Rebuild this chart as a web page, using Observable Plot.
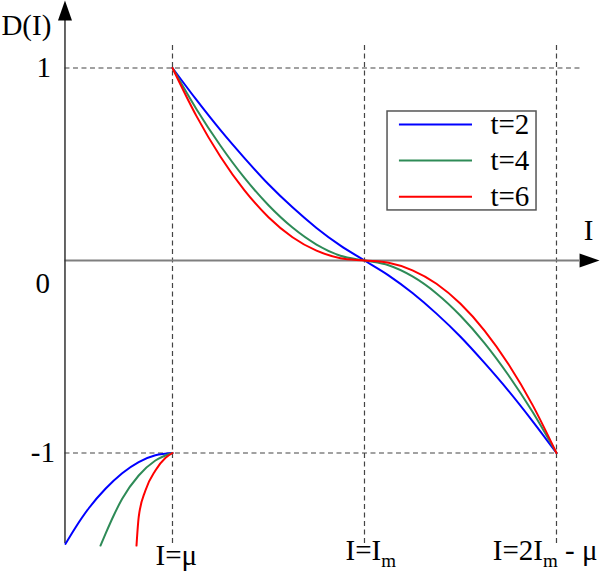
<!DOCTYPE html>
<html><head><meta charset="utf-8">
<script src="https://cdn.jsdelivr.net/npm/d3@7"></script>
<script src="https://cdn.jsdelivr.net/npm/@observablehq/plot@0.6"></script>
<style>body{margin:0;background:#fff} svg{display:block}</style>
</head><body><div id="chart"></div>
<script>
// ---- data ----
const seriesNames = ["t=2", "t=4", "t=6"];
const seriesColors = ["#0000ff", "#2e8b57", "#ff0000"];

// main branch: I from μ (=1) through I_m (=2) to 2I_m-μ (=3)
const mainI = [1, 1.125, 1.25, 1.375, 1.5, 1.625, 1.75, 1.875, 2, 2.125, 2.25, 2.375, 2.5, 2.625, 2.75, 2.875, 3];
const mainD_t2 = [1, 0.834, 0.677, 0.532, 0.396, 0.276, 0.169, 0.077, 0, -0.077, -0.169, -0.276, -0.396, -0.532, -0.677, -0.834, -1];
const mainD_t4 = [1, 0.786, 0.596, 0.429, 0.287, 0.171, 0.083, 0.025, 0, -0.025, -0.083, -0.171, -0.287, -0.429, -0.596, -0.786, -1];
const mainD_t6 = [1, 0.750, 0.539, 0.364, 0.225, 0.121, 0.051, 0.012, 0, -0.012, -0.051, -0.121, -0.225, -0.364, -0.539, -0.750, -1];

// lower-left branch (I < μ)
const lowI_t2 = [0.443, 0.495, 0.564, 0.651, 0.738, 0.824, 0.911, 1];
const lowD_t2 = [-1.472, -1.387, -1.287, -1.186, -1.105, -1.047, -1.012, -1];
const lowI_t4 = [0.625, 0.651, 0.695, 0.738, 0.824, 0.911, 1];
const lowD_t4 = [-1.481, -1.420, -1.322, -1.238, -1.117, -1.039, -1];
const lowI_t6 = [0.8125, 0.824, 0.859, 0.911, 0.964, 1];
const lowD_t6 = [-1.481, -1.333, -1.195, -1.091, -1.025, -1];

const yTicks = [1, 0, -1];
const yTickLabels = ["1", "0", "-1"];
const xTicks = [1, 2, 3];
const xTickLabels = ["I=μ", "I=I_m", "I=2I_m - μ"];
const xAxisLabel = "I";
const yAxisLabel = "D(I)";

// ---- build table ----
const mainD = [mainD_t2, mainD_t4, mainD_t6];
const lowI = [lowI_t2, lowI_t4, lowI_t6];
const lowD = [lowD_t2, lowD_t4, lowD_t6];
const mainRows = [], lowRows = [];
seriesNames.forEach((s, k) => {
  mainI.forEach((v, i) => mainRows.push({series: s, I: v, D: mainD[k][i]}));
  lowI[k].forEach((v, i) => lowRows.push({series: s, I: v, D: lowD[k][i]}));
});

// ---- layout ----
const yAxisX = 0.44;
const axisBottom = -1.47;
const yArrowBase = 1.247;
const xArrowBase = 3.12;
const dashTop = 1.117;
const font = "'Liberation Serif', 'Times New Roman', serif";
const fs = 29;
const T = {fontSize: fs, fontFamily: font, fill: "black"};

const arrowHead = {
  draw(context, l, r) {
    context.moveTo(-r, 0);
    context.lineTo(0, -l);
    context.lineTo(r, 0);
    context.closePath();
  }
};

const dash = {stroke: "#444", strokeWidth: 1.2, strokeDasharray: "5,3.5"};

const legendRows = seriesNames.map((s, i) => ({series: s, y: 0.7065 - i * 0.1875}));

const chart = Plot.plot({
  width: 600,
  height: 577,
  marginTop: 0, marginRight: 0, marginBottom: 0, marginLeft: 0,
  x: {domain: [0.1042, 3.2292], axis: null},
  y: {domain: [-1.6468, 1.3506], axis: null},
  color: {domain: seriesNames, range: seriesColors},
  style: {fontFamily: font, background: "white"},
  marks: [
    // dashed guides
    Plot.ruleY([1], {x1: yAxisX, x2: 3.14, ...dash}),
    Plot.ruleY([-1], {x1: yAxisX, x2: 3.01, ...dash}),
    Plot.ruleX(xTicks, {y1: axisBottom, y2: dashTop, ...dash}),
    // axes
    Plot.ruleY([0], {x1: yAxisX, x2: xArrowBase, stroke: "#7f7f7f", strokeWidth: 2}),
    Plot.ruleX([yAxisX], {y1: axisBottom, y2: yArrowBase, stroke: "#333", strokeWidth: 1.5}),
    Plot.vector([{x: yAxisX, y: yArrowBase, r: 0}, {x: xArrowBase, y: 0, r: 90}], {
      x: "x", y: "y", rotate: "r", length: 20, r: 7, anchor: "start",
      shape: arrowHead, fill: "black", stroke: "none"
    }),
    // curves
    Plot.line(mainRows, {x: "I", y: "D", z: "series", stroke: "series", strokeWidth: 2, curve: "monotone-x"}),
    Plot.line(lowRows, {x: "I", y: "D", z: "series", stroke: "series", strokeWidth: 2, curve: "monotone-x"}),
    // axis labels
    Plot.text([yAxisLabel], {x: () => 0.109, y: () => 1.169, text: d => d, textAnchor: "start", lineAnchor: "bottom", ...T}),
    Plot.text([xAxisLabel], {x: () => 3.167, y: () => 0.104, text: d => d, textAnchor: "middle", lineAnchor: "bottom", ...T}),
    // y tick labels
    Plot.text([yTicks[0]], {x: () => yAxisX, y: d => d, text: () => yTickLabels[0], textAnchor: "end", dx: -14, ...T}),
    Plot.text([yTicks[1]], {x: () => yAxisX, y: d => d, text: () => yTickLabels[1], textAnchor: "end", dx: -15, dy: 23, ...T}),
    Plot.text([yTicks[2]], {x: () => yAxisX, y: d => d, text: () => yTickLabels[2], textAnchor: "end", dx: -10, ...T}),
    // x tick labels
    Plot.text([xTicks[0]], {x: d => d, y: () => axisBottom, text: () => xTickLabels[0], textAnchor: "start", lineAnchor: "bottom", dx: -17, dy: 22, ...T}),
    Plot.text([xTicks[1]], {x: d => d, y: () => axisBottom, text: () => xTickLabels[1], textAnchor: "start", lineAnchor: "bottom", dx: -19, dy: 17, ...T}),
    Plot.text([xTicks[2]], {x: d => d, y: () => axisBottom, text: () => xTickLabels[2], textAnchor: "end", lineAnchor: "bottom", dx: 41, dy: 17, ...T}),
    // legend
    Plot.rect([0], {x1: 2.12, x2: 2.896, y1: 0.26, y2: 0.774, fill: "white", stroke: "#555", strokeWidth: 1.5}),
    Plot.ruleY(legendRows, {y: "y", x1: 2.182, x2: 2.5625, stroke: "series", strokeWidth: 2}),
    Plot.text(legendRows, {x: () => 2.656, y: "y", text: "series", textAnchor: "start", ...T})
  ]
});

// subscripts: "_m" -> lowered small m
const NS = "http://www.w3.org/2000/svg";
const subShift = 7, subSize = 19;
chart.querySelectorAll("text, tspan").forEach(el => {
  if (el.children.length === 0 && el.textContent.includes("_")) {
    const parts = el.textContent.split(/_(\w)/);
    el.textContent = "";
    parts.forEach((p, i) => {
      if (i % 2 === 0) {
        if (!p) return;
        const t = document.createElementNS(NS, "tspan");
        t.textContent = p;
        if (i > 0) t.setAttribute("dy", -subShift);
        el.appendChild(t);
      } else {
        const t = document.createElementNS(NS, "tspan");
        t.textContent = p;
        t.setAttribute("dy", subShift);
        t.setAttribute("font-size", subSize);
        el.appendChild(t);
      }
    });
  }
});

document.getElementById("chart").appendChild(chart);
</script>
</body></html>
